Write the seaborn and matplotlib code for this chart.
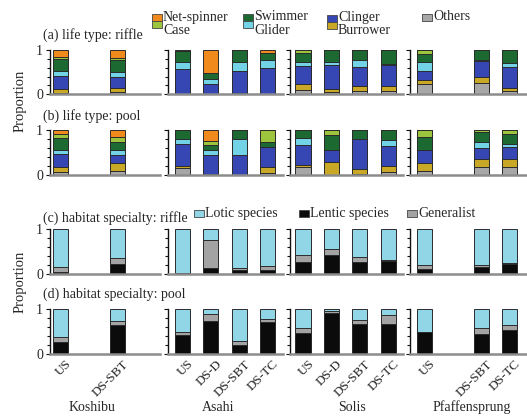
import numpy as np
import pandas as pd
import matplotlib
matplotlib.use("Agg")
import matplotlib.pyplot as plt
import matplotlib.transforms as mtransforms
from matplotlib.patches import Rectangle
import seaborn as sns

# ---------------------------------------------------------------- data
SITES = ["Koshibu", "Asahi", "Solis", "Pfaffensprung"]
STATIONS = ["US", "DS-D", "DS-SBT", "DS-TC"]

KOSHIBU_ST = ["US", "DS-SBT"]
ASAHI_ST = ["US", "DS-D", "DS-SBT", "DS-TC"]
SOLIS_ST = ["US", "DS-D", "DS-SBT", "DS-TC"]
PFAFF_ST = ["US", "DS-SBT", "DS-TC"]

# life types, stacked bottom -> top
LIFE_TYPES = ["Others", "Burrower", "Clinger", "Glider", "Swimmer", "Case", "Net-spinner"]

# riffle: one row per station, columns follow LIFE_TYPES
LIFE_RIFFLE_KOSHIBU = [[0.03, 0.08, 0.30, 0.12, 0.27, 0.04, 0.16],
                       [0.05, 0.08, 0.26, 0.12, 0.27, 0.04, 0.18]]
LIFE_RIFFLE_ASAHI = [[0.00, 0.00, 0.57, 0.16, 0.25, 0.00, 0.02],
                     [0.00, 0.00, 0.24, 0.10, 0.14, 0.00, 0.52],
                     [0.02, 0.00, 0.51, 0.21, 0.26, 0.00, 0.00],
                     [0.01, 0.00, 0.58, 0.20, 0.16, 0.00, 0.05]]
LIFE_RIFFLE_SOLIS = [[0.10, 0.12, 0.42, 0.10, 0.20, 0.06, 0.00],
                     [0.05, 0.06, 0.56, 0.06, 0.27, 0.00, 0.00],
                     [0.08, 0.10, 0.44, 0.16, 0.22, 0.00, 0.00],
                     [0.08, 0.10, 0.48, 0.04, 0.30, 0.00, 0.00]]
LIFE_RIFFLE_PFAFF = [[0.24, 0.08, 0.20, 0.21, 0.19, 0.08, 0.00],
                     [0.26, 0.12, 0.38, 0.02, 0.22, 0.00, 0.00],
                     [0.08, 0.06, 0.48, 0.10, 0.28, 0.00, 0.00]]

# pool
LIFE_POOL_KOSHIBU = [[0.06, 0.11, 0.30, 0.08, 0.28, 0.09, 0.08],
                     [0.10, 0.18, 0.17, 0.10, 0.19, 0.11, 0.15]]
LIFE_POOL_ASAHI = [[0.15, 0.06, 0.49, 0.11, 0.19, 0.00, 0.00],
                   [0.02, 0.00, 0.43, 0.12, 0.10, 0.10, 0.23],
                   [0.00, 0.00, 0.45, 0.36, 0.19, 0.00, 0.00],
                   [0.05, 0.13, 0.45, 0.00, 0.11, 0.26, 0.00]]
LIFE_POOL_SOLIS = [[0.17, 0.05, 0.45, 0.15, 0.18, 0.00, 0.00],
                   [0.00, 0.29, 0.26, 0.00, 0.34, 0.11, 0.00],
                   [0.02, 0.11, 0.68, 0.00, 0.19, 0.00, 0.00],
                   [0.06, 0.14, 0.45, 0.13, 0.22, 0.00, 0.00]]
LIFE_POOL_PFAFF = [[0.09, 0.17, 0.29, 0.02, 0.28, 0.15, 0.00],
                   [0.17, 0.19, 0.24, 0.15, 0.21, 0.04, 0.00],
                   [0.17, 0.19, 0.26, 0.08, 0.22, 0.08, 0.00]]

# habitat specialty, stacked bottom -> top
HABITAT_TYPES = ["Lentic species", "Generalist", "Lotic species"]

HAB_RIFFLE_KOSHIBU = [[0.05, 0.10, 0.85], [0.23, 0.13, 0.64]]
HAB_RIFFLE_ASAHI = [[0.02, 0.01, 0.97], [0.13, 0.63, 0.24],
                    [0.08, 0.06, 0.86], [0.10, 0.08, 0.82]]
HAB_RIFFLE_SOLIS = [[0.28, 0.14, 0.58], [0.43, 0.12, 0.45],
                    [0.27, 0.11, 0.62], [0.30, 0.02, 0.68]]
HAB_RIFFLE_PFAFF = [[0.12, 0.08, 0.80], [0.15, 0.05, 0.80], [0.23, 0.01, 0.76]]

HAB_POOL_KOSHIBU = [[0.27, 0.11, 0.62], [0.64, 0.09, 0.27]]
HAB_POOL_ASAHI = [[0.42, 0.08, 0.50], [0.74, 0.15, 0.11],
                  [0.21, 0.09, 0.70], [0.72, 0.06, 0.22]]
HAB_POOL_SOLIS = [[0.47, 0.12, 0.41], [0.91, 0.06, 0.03],
                  [0.68, 0.09, 0.23], [0.68, 0.19, 0.13]]
HAB_POOL_PFAFF = [[0.49, 0.00, 0.51], [0.44, 0.15, 0.41], [0.53, 0.11, 0.36]]

ROW_TITLES = ["(a) life type: riffle", "(b) life type: pool",
              "(c) habitat specialty: riffle", "(d) habitat specialty: pool"]

# ---------------------------------------------------------------- style
LIFE_COLORS = {"Others": "#a7a7a7", "Burrower": "#c9a827", "Clinger": "#3646b2",
               "Glider": "#72d2e6", "Swimmer": "#1c6a32", "Case": "#9cc43c",
               "Net-spinner": "#f08a1d"}
HAB_COLORS = {"Lentic species": "#0b0b0b", "Generalist": "#a3a3a3",
              "Lotic species": "#90d6e6"}

sns.set_style("ticks")
plt.rcParams["font.family"] = ["Liberation Serif", "DejaVu Serif"]
plt.rcParams["font.size"] = 10

W, H = 527, 419
fig = plt.figure(figsize=(W / 100, H / 100), dpi=100)
fig.patch.set_facecolor("white")

# panel geometry in pixels
PANEL_LEFT = [50, 168, 290, 410]
PANEL_RIGHT = [160, 283, 403, 526]
FIRST_CENTER = [60.5, 182.5, 303.0, 424.5]
UNIT = 28.4
ROW_TOP = [50, 130, 229, 309]
ROW_H = [44, 45, 45, 45]
TITLE_Y = [35, 116, 218, 294]


def add_px_axes(left, right, top, height):
    return fig.add_axes([left / W, 1 - (top + height) / H, (right - left) / W, height / H])


def draw_stack(ax, stations, rows, layer_names, palette):
    vals = np.array(rows, dtype=float)
    cum = np.cumsum(vals, axis=1)
    # draw the tallest cumulative layer first so lower layers sit on top of it
    for k in range(vals.shape[1] - 1, -1, -1):
        df = pd.DataFrame({"station": stations, "p": cum[:, k]})
        sns.barplot(data=df, x="station", y="p", order=STATIONS,
                    color=palette[layer_names[k]], saturation=1, width=0.53,
                    edgecolor="#2b2b2b", linewidth=0.7, errorbar=None, ax=ax)


panel_data = [
    [LIFE_RIFFLE_KOSHIBU, LIFE_RIFFLE_ASAHI, LIFE_RIFFLE_SOLIS, LIFE_RIFFLE_PFAFF],
    [LIFE_POOL_KOSHIBU, LIFE_POOL_ASAHI, LIFE_POOL_SOLIS, LIFE_POOL_PFAFF],
    [HAB_RIFFLE_KOSHIBU, HAB_RIFFLE_ASAHI, HAB_RIFFLE_SOLIS, HAB_RIFFLE_PFAFF],
    [HAB_POOL_KOSHIBU, HAB_POOL_ASAHI, HAB_POOL_SOLIS, HAB_POOL_PFAFF],
]
site_stations = [KOSHIBU_ST, ASAHI_ST, SOLIS_ST, PFAFF_ST]
label_shift = mtransforms.ScaledTranslation(0.05, 0, fig.dpi_scale_trans)

for r in range(4):
    names = LIFE_TYPES if r < 2 else HABITAT_TYPES
    palette = LIFE_COLORS if r < 2 else HAB_COLORS
    for c in range(4):
        ax = add_px_axes(PANEL_LEFT[c], PANEL_RIGHT[c], ROW_TOP[r], ROW_H[r])
        draw_stack(ax, site_stations[c], panel_data[r][c], names, palette)
        ax.set_xlim((PANEL_LEFT[c] - FIRST_CENTER[c]) / UNIT,
                    (PANEL_RIGHT[c] - FIRST_CENTER[c]) / UNIT)
        ax.set_ylim(0, 1.01)
        ax.set_xlabel("")
        ax.set_ylabel("")
        ax.set_facecolor("none")
        for side in ("top", "right"):
            ax.spines[side].set_visible(False)
        ax.spines["left"].set_color("#111111")
        ax.spines["left"].set_linewidth(1.0)
        ax.spines["bottom"].set_color("#8c8c8c")
        ax.spines["bottom"].set_linewidth(1.8)
        ax.set_yticks([0, 1])
        ax.set_yticks([0.2, 0.4, 0.6, 0.8], minor=True)
        ax.tick_params(axis="y", which="major", length=3, width=0.8, pad=2,
                       labelsize=10, color="#111111")
        ax.tick_params(axis="y", which="minor", length=2.5, width=0.8, color="#111111")
        if c == 0:
            ax.set_yticklabels(["0", "1"])
        else:
            ax.set_yticklabels([])
        if r == 3:
            ax.set_xticks(range(len(STATIONS)))
            ax.set_xticklabels([s if s in site_stations[c] else "" for s in STATIONS],
                               rotation=45, ha="right", va="top",
                               rotation_mode="anchor", fontsize=9.5)
            ax.tick_params(axis="x", length=0, pad=3)
            for lbl in ax.get_xticklabels():
                lbl.set_transform(lbl.get_transform() + label_shift)
        else:
            ax.set_xticks([])

# row titles
for r in range(4):
    fig.text(43 / W, 1 - TITLE_Y[r] / H, ROW_TITLES[r], ha="left", va="center",
             fontsize=10)

# y axis labels
fig.text(20 / W, 1 - 101 / H, "Proportion", rotation=90, ha="center", va="center",
         fontsize=10.5)
fig.text(20 / W, 1 - 282 / H, "Proportion", rotation=90, ha="center", va="center",
         fontsize=10.5)

# site names under the bottom row
SITE_X = [92, 218, 352, 472]
for name, x in zip(SITES, SITE_X):
    fig.text(x / W, 1 - 407 / H, name, ha="center", va="center", fontsize=10)


def legend_entry(box_x, box_y, text_y, color, label):
    fig.patches.append(Rectangle((box_x / W, 1 - (box_y + 3.5) / H), 10 / W, 7 / H,
                                 transform=fig.transFigure, facecolor=color,
                                 edgecolor="#444444", linewidth=0.6))
    fig.text((box_x + 11) / W, 1 - text_y / H, label, ha="left", va="center",
             fontsize=10)


# life type legend
legend_entry(152, 17.5, 17, LIFE_COLORS["Net-spinner"], "Net-spinner")
legend_entry(152, 24.5, 30, LIFE_COLORS["Case"], "Case")
legend_entry(243, 17.5, 17, LIFE_COLORS["Swimmer"], "Swimmer")
legend_entry(243, 24.5, 30, LIFE_COLORS["Glider"], "Glider")
legend_entry(327, 18.5, 17, LIFE_COLORS["Clinger"], "Clinger")
legend_entry(327, 25.5, 30, LIFE_COLORS["Burrower"], "Burrower")
legend_entry(422, 18, 17, LIFE_COLORS["Others"], "Others")

# habitat legend
legend_entry(194, 213.5, 213, HAB_COLORS["Lotic species"], "Lotic species")
legend_entry(299, 213.5, 213, HAB_COLORS["Lentic species"], "Lentic species")
legend_entry(407, 213.5, 213, HAB_COLORS["Generalist"], "Generalist")

fig.savefig("out.png", dpi=100, facecolor="white")
